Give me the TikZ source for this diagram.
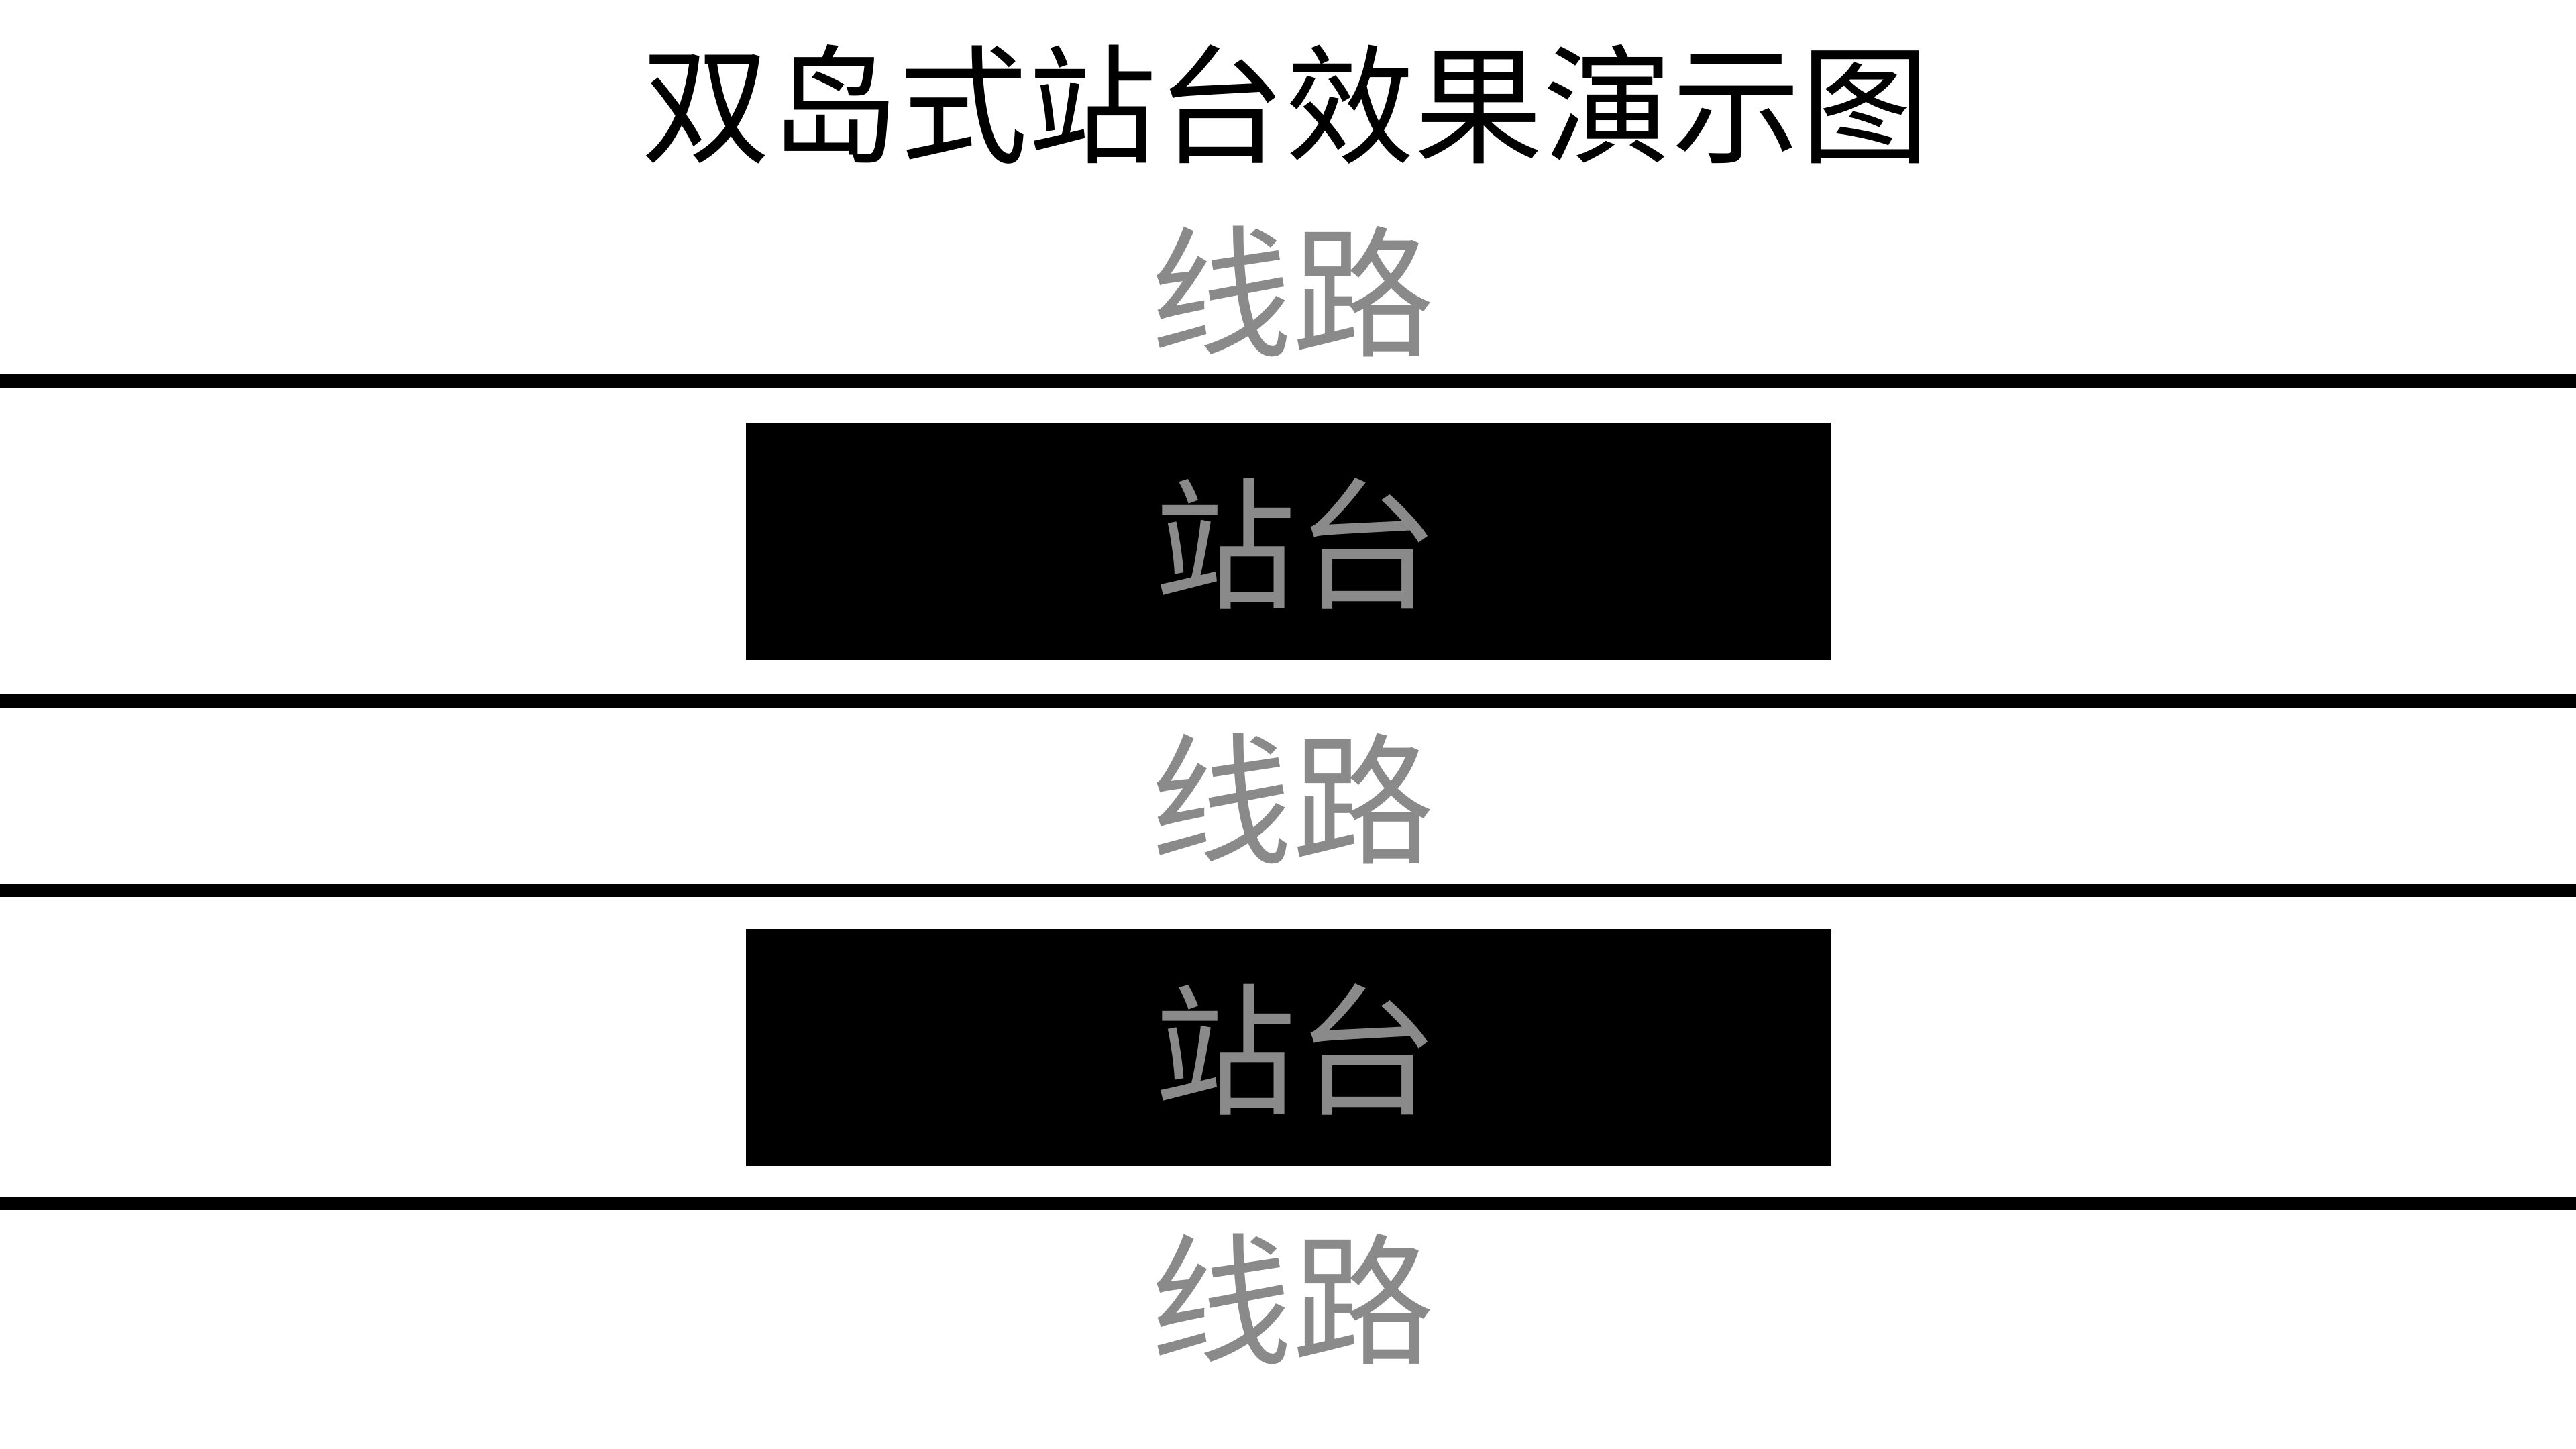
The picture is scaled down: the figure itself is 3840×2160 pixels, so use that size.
\documentclass[tikz,border=0pt]{standalone}
\usepackage{fontspec}
\newfontfamily\cjk{Noto Sans CJK SC}
\definecolor{labelgray}{RGB}{138,138,138}
\tikzset{
  track/.style={fill=black, draw=none},
  platform/.style={fill=black, draw=none, minimum width=404.5pt, minimum height=88.25pt, inner sep=0pt},
  platformlabel/.style={inner sep=0pt, font=\cjk\fontsize{53}{53}\selectfont, text=labelgray},
  linelabel/.style={inner sep=0pt, font=\cjk\fontsize{53}{53}\selectfont, text=labelgray},
  titlestyle/.style={inner sep=0pt, font=\cjk\fontsize{48}{48}\selectfont, text=black}
}
\begin{document}
\begin{tikzpicture}[x=0.25pt,y=-0.25pt]
\useasboundingbox (0,0) rectangle (3840,2160);
\fill[white] (0,0) rectangle (3840,2160);
\node[titlestyle] (title) at (1916,155) {双岛式站台效果演示图};
\node[linelabel] (l1) at (1926,435) {线路};
\fill[track] (0,558) rectangle (3840,578);
\node[platform] (p1) at (1921,807.5) {};
\node[platformlabel] (t1) at (1932,810) {站台};
\fill[track] (0,1035) rectangle (3840,1055);
\node[linelabel] (l2) at (1926,1191) {线路};
\fill[track] (0,1318) rectangle (3840,1337);
\node[platform] (p2) at (1921,1561.5) {};
\node[platformlabel] (t2) at (1932,1564) {站台};
\fill[track] (0,1785) rectangle (3840,1804);
\node[linelabel] (l3) at (1926,1936) {线路};
\end{tikzpicture}
\end{document}
